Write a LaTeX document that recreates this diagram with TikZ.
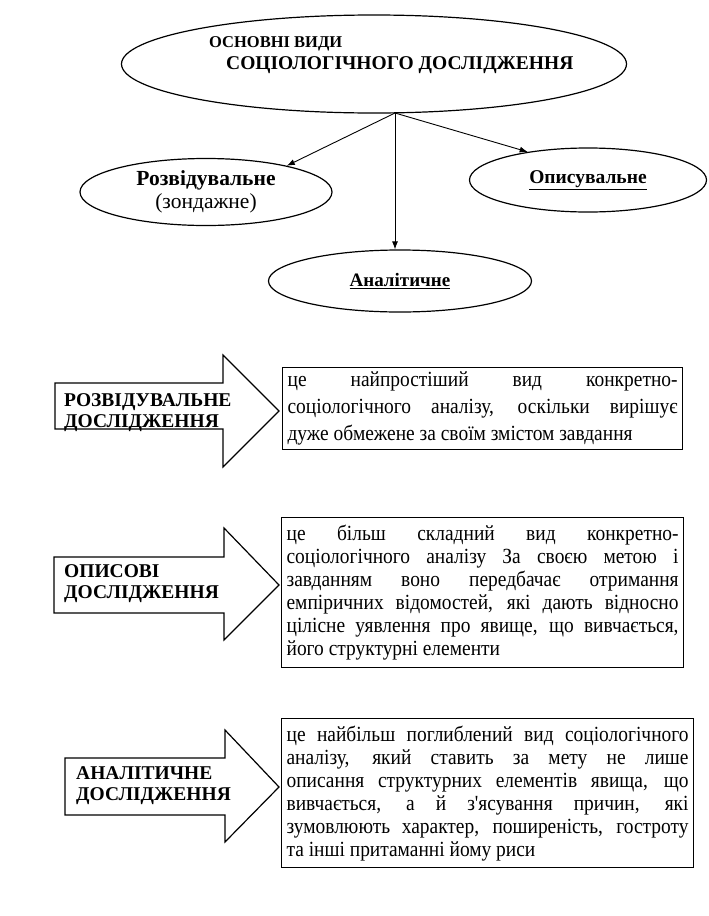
\documentclass[tikz,border=0pt]{standalone}
\usepackage{fontspec}
\setmainfont{Liberation Serif}
\newfontfamily\bodyfont[FakeStretch=0.9]{Liberation Serif}
\usetikzlibrary{arrows.meta,shapes.geometric}

\begin{document}
\begin{tikzpicture}[
  x=1pt, y=-1pt,
  oval/.style={draw, ellipse, line width=1.2pt, inner sep=0pt, align=center},
  blockarrow/.style={draw, line width=1.2pt, line join=miter},
  arrowlabel/.style={anchor=west, align=left, inner sep=0pt, font=\fontsize{19.5}{21}\selectfont\bfseries},
  textbox/.style={draw, line width=1.2pt, anchor=north west, inner xsep=5pt, inner ysep=4pt, align=justify},
  link/.style={-{Latex[length=8pt,width=6pt]}, line width=0.9pt}
]
\useasboundingbox (0,0) rectangle (709,916);

% top part: the kinds of research
\node[oval, minimum width=505pt, minimum height=98pt] (main) at (374,64) {};
\node[anchor=west, inner sep=0pt, font=\fontsize{16.5}{18}\selectfont\bfseries] (maintop) at (209,44) {ОСНОВНІ ВИДИ};
\node[anchor=west, inner sep=0pt, font=\fontsize{19.5}{22}\selectfont\bfseries] (mainbot) at (226,65) {СОЦІОЛОГІЧНОГО ДОСЛІДЖЕННЯ};

\node[oval, minimum width=252pt, minimum height=67pt, font=\fontsize{21.5}{23}\selectfont] (razv) at (206,192) {\textbf{Розвідувальне}\\(зондажне)};
\node[oval, minimum width=237pt, minimum height=64pt, font=\fontsize{19.5}{20}\selectfont\bfseries] (opys) at (588,180) {\underline{Описувальне}};
\node[oval, minimum width=263pt, minimum height=62pt, font=\fontsize{19}{20}\selectfont\bfseries] (anal) at (400,281) {\underline{Аналітичне}};

\coordinate (fork) at (395,113);
\draw[link] (fork) -- (razv.18);
\draw[link] (fork) -- (opys.155);
\draw[link] (fork) -- (fork |- anal.north);

% bottom part: block arrows and definitions
\draw[blockarrow] (55,383) -- (223,383) -- (223,355) -- (279,411) -- (223,467) -- (223,429) -- (55,429) -- cycle;
\node[arrowlabel] (razvlabel) at (64,413) {РОЗВІДУВАЛЬНЕ\\ДОСЛІДЖЕННЯ};
\node[textbox, text width=390pt, minimum height=82pt, font=\bodyfont\fontsize{21.6}{27}\selectfont] (razvbox) at (282,367)
  {це найпростіший вид конкретно-\linebreak соціологічного аналізу, оскільки вирішує\linebreak дуже обмежене за своїм змістом завдання};

\draw[blockarrow] (54,557) -- (224,557) -- (224,528) -- (279,585) -- (224,640) -- (224,613) -- (54,613) -- cycle;
\node[arrowlabel] (opyslabel) at (64,584) {ОПИСОВІ\\ДОСЛІДЖЕННЯ};
\node[textbox, text width=392pt, minimum height=150pt, font=\bodyfont\fontsize{21.6}{23}\selectfont] (opysbox) at (281,517)
  {це більш складний вид конкретно-\linebreak соціологічного аналізу За своєю метою і\linebreak завданням воно передбачає отримання\linebreak емпіричних відомостей, які дають відносно\linebreak цілісне уявлення про явище, що вивчається,\linebreak його структурні елементи};

\draw[blockarrow] (65,758) -- (225,758) -- (225,730) -- (279,787) -- (225,842) -- (225,815) -- (65,815) -- cycle;
\node[arrowlabel] (anallabel) at (76,786) {АНАЛІТИЧНЕ\\ДОСЛІДЖЕННЯ};
\node[textbox, text width=402pt, minimum height=149pt, font=\bodyfont\fontsize{21.6}{23}\selectfont] (analbox) at (281,718)
  {це найбільш поглиблений вид соціологічного\linebreak аналізу, який ставить за мету не лише\linebreak описання структурних елементів явища, що\linebreak вивчається, а й з'ясування причин, які\linebreak зумовлюють характер, поширеність, гостроту\linebreak та інші притаманні йому риси};
\end{tikzpicture}
\end{document}
